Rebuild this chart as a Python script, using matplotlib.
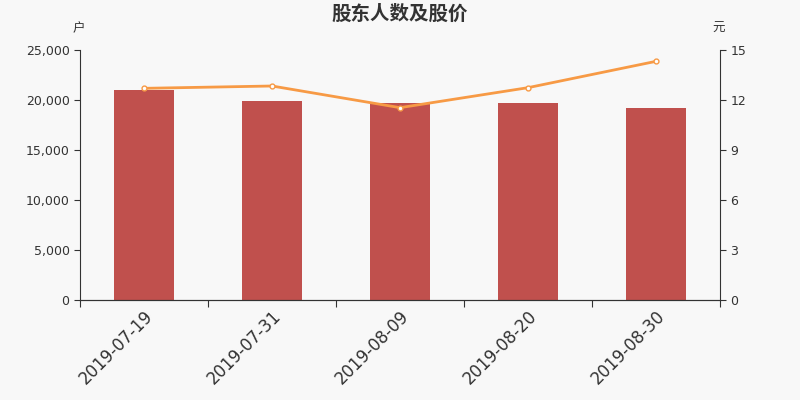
import matplotlib
matplotlib.use("Agg")
from matplotlib import pyplot as plt
from matplotlib.ticker import FuncFormatter
import numpy as np

plt.rcParams['font.family'] = ['DejaVu Sans', 'Noto Sans CJK SC']

dates = ["2019-07-19", "2019-07-31", "2019-08-09", "2019-08-20", "2019-08-30"]
holders = [21000, 19870, 19700, 19670, 19200]
price = [12.70, 12.84, 11.54, 12.74, 14.32]

bg = "#f8f8f8"
axis_col = "#333333"
cjk = ['Noto Sans CJK SC', 'DejaVu Sans']

fig = plt.figure(figsize=(8, 4), dpi=100, facecolor=bg)
ax = fig.add_axes([0.1, 0.25, 0.8, 0.625], facecolor=bg)
ax2 = ax.twinx()

x = np.arange(len(dates))
ax.bar(x, holders, width=0.47, color="#c0504d", zorder=2)
ax2.plot(x, price, color="#f79a45", linewidth=2, marker="o", markersize=3.5,
         markerfacecolor="white", markeredgecolor="#f79a45", markeredgewidth=1, zorder=3)

ax.set_xlim(-0.5, len(dates) - 0.5)
ax.set_ylim(0, 25000)
ax2.set_ylim(0, 15)
ax.set_yticks(range(0, 25001, 5000))
ax2.set_yticks(range(0, 16, 3))
ax.yaxis.set_major_formatter(FuncFormatter(lambda v, p: f"{int(v):,}"))

ax.set_xticks(np.arange(-0.5, len(dates), 1.0))
ax.set_xticklabels([])
ax.set_xticks(x, minor=True)
ax.set_xticklabels(dates, minor=True, rotation=45, ha="right", rotation_mode="anchor",
                   fontsize=12, color=axis_col)
ax.tick_params(axis="x", which="minor", length=0, pad=5)
ax.tick_params(axis="x", which="major", length=5, color=axis_col)

for a in (ax, ax2):
    a.spines["top"].set_visible(False)
    a.spines["left"].set_color(axis_col)
    a.spines["right"].set_color(axis_col)
    a.spines["bottom"].set_color(axis_col)
ax.spines["right"].set_visible(False)
ax2.spines["left"].set_visible(False)
ax.tick_params(axis="y", labelsize=9, colors=axis_col, length=4)
ax2.tick_params(axis="y", labelsize=9, colors=axis_col, length=4)

fig.text(0.5, 0.965, "股东人数及股价", ha="center", va="center", fontsize=14,
         fontweight="bold", color="#333333", family=cjk)
fig.text(0.098, 0.928, "户", ha="center", va="center", fontsize=9, color=axis_col, family=cjk)
fig.text(0.898, 0.928, "元", ha="center", va="center", fontsize=9, color=axis_col, family=cjk)

fig.savefig("out.png", dpi=100, facecolor=bg)
